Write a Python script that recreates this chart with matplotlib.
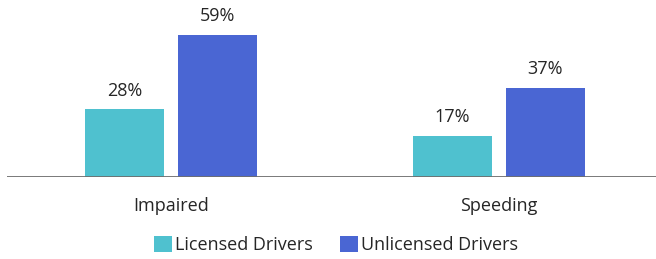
import numpy as np
import matplotlib.pyplot as plt
from matplotlib.patches import FancyBboxPatch, Patch

categories = ["Impaired", "Speeding"]
licensed = [28, 17]
unlicensed = [59, 37]
series_names = ["Licensed Drivers", "Unlicensed Drivers"]

teal = "#4FC1CF"
blue = "#4A66D3"

plt.rcParams['font.family'] = ['Open Sans', 'DejaVu Sans']

fig = plt.figure(figsize=(6.56, 2.59), dpi=100)
ax = fig.add_axes([0.0107, 0.318, 0.9893, 0.682])

x = np.arange(len(categories))
w = 0.241
off = 0.1418
b1 = ax.bar(x - off, licensed, w, color=teal, zorder=2)
b2 = ax.bar(x + off, unlicensed, w, color=blue, zorder=2)

for bars, vals in [(b1, licensed), (b2, unlicensed)]:
    for r, v in zip(bars, vals):
        ax.annotate(f"{v}%", (r.get_x() + r.get_width() / 2, v),
                    xytext=(0, 7), textcoords="offset points",
                    ha="center", va="bottom", fontsize=13, color="#262626")

ax.axhline(0, color="#6e6e6e", linewidth=1.3, zorder=3)
ax.set_xlim(-0.5, 1.479)
ax.set_ylim(0, 73.6)
ax.set_yticks([])
ax.set_xticks(x)
ax.set_xticklabels(categories, fontsize=13, color="#262626")
ax.tick_params(axis="x", length=0, pad=15)
for s in ax.spines.values():
    s.set_visible(False)

handles = [Patch(facecolor=teal, edgecolor="none"), Patch(facecolor=blue, edgecolor="none")]
fig.legend(handles, series_names, loc="center", bbox_to_anchor=(0.512, 0.055),
           ncol=2, frameon=False, fontsize=13, handlelength=1.0, handleheight=1.0,
           handletextpad=0.15, columnspacing=1.5, labelcolor="#262626")

fig.savefig("out.png", dpi=100)
